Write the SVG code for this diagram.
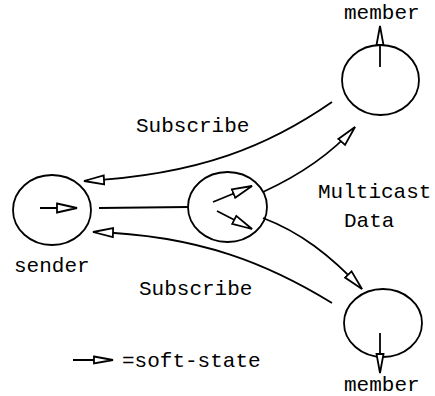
<svg xmlns="http://www.w3.org/2000/svg" width="435" height="396" viewBox="0 0 435 396">
<style>
.n{fill:none;stroke:#000;stroke-width:1.8}
.c{fill:none;stroke:#000;stroke-width:1.8}
.t{font-family:"Liberation Mono","Courier New",monospace;font-size:21px;fill:#000}
</style>
<defs>
<marker id="ah" markerUnits="userSpaceOnUse" markerWidth="24" markerHeight="12" viewBox="-1 -6 24 12" refX="20" refY="0" orient="auto">
<path d="M0,-4.5 L20,0 L0,4.5 Z" fill="#fff" stroke="#000" stroke-width="1.8"/>
</marker>
<marker id="ahs" markerUnits="userSpaceOnUse" markerWidth="22" markerHeight="10" viewBox="-1 -5 22 10" refX="19" refY="0" orient="auto">
<path d="M0,-3.5 L19,0 L0,3.5 Z" fill="#fff" stroke="#000" stroke-width="1.8"/>
</marker>
</defs>
<g id="sender">
<ellipse class="n" cx="52" cy="210" rx="39" ry="35"/>
<line class="c" x1="40" y1="208" x2="77" y2="208" marker-end="url(#ah)"/>
<text class="t" x="14" y="272">sender</text>
</g>
<g id="router">
<ellipse class="n" cx="227.5" cy="207" rx="39.5" ry="35"/>
<line class="c" x1="213" y1="202" x2="252" y2="186" marker-end="url(#ah)"/>
<line class="c" x1="217" y1="211" x2="252" y2="229" marker-end="url(#ah)"/>
</g>
<g id="member-top">
<ellipse class="n" cx="380.5" cy="80" rx="38.5" ry="35"/>
<line class="c" x1="380" y1="67" x2="380" y2="26" marker-end="url(#ahs)"/>
<text class="t" x="344" y="19">member</text>
</g>
<g id="member-bottom">
<ellipse class="n" cx="383" cy="323" rx="39" ry="34"/>
<line class="c" x1="380" y1="333" x2="380" y2="373" marker-end="url(#ahs)"/>
<text class="t" x="344" y="391">member</text>
</g>
<g id="connectors">
<path class="c" d="M332,102 C270,145 200,175 84,181" marker-end="url(#ah)"/>
<path class="c" d="M332,303 C270,265 200,235 93,232" marker-end="url(#ah)"/>
<path class="c" d="M263,192 C300,175 330,155 355,127" marker-end="url(#ah)"/>
<path class="c" d="M263,218 C300,232 330,255 362,289" marker-end="url(#ah)"/>
<path class="c" d="M99,208 L188,207" stroke-width="2.4"/>
</g>
<g id="labels">
<text class="t" x="136" y="132">Subscribe</text>
<text class="t" x="139" y="295">Subscribe</text>
<text class="t" x="318" y="198">Multicast</text>
<text class="t" x="344" y="227">Data</text>
</g>
<g id="legend">
<line class="c" x1="73" y1="360" x2="113" y2="360" marker-end="url(#ahs)"/>
<text class="t" x="122" y="367">=soft-state</text>
</g>
</svg>
